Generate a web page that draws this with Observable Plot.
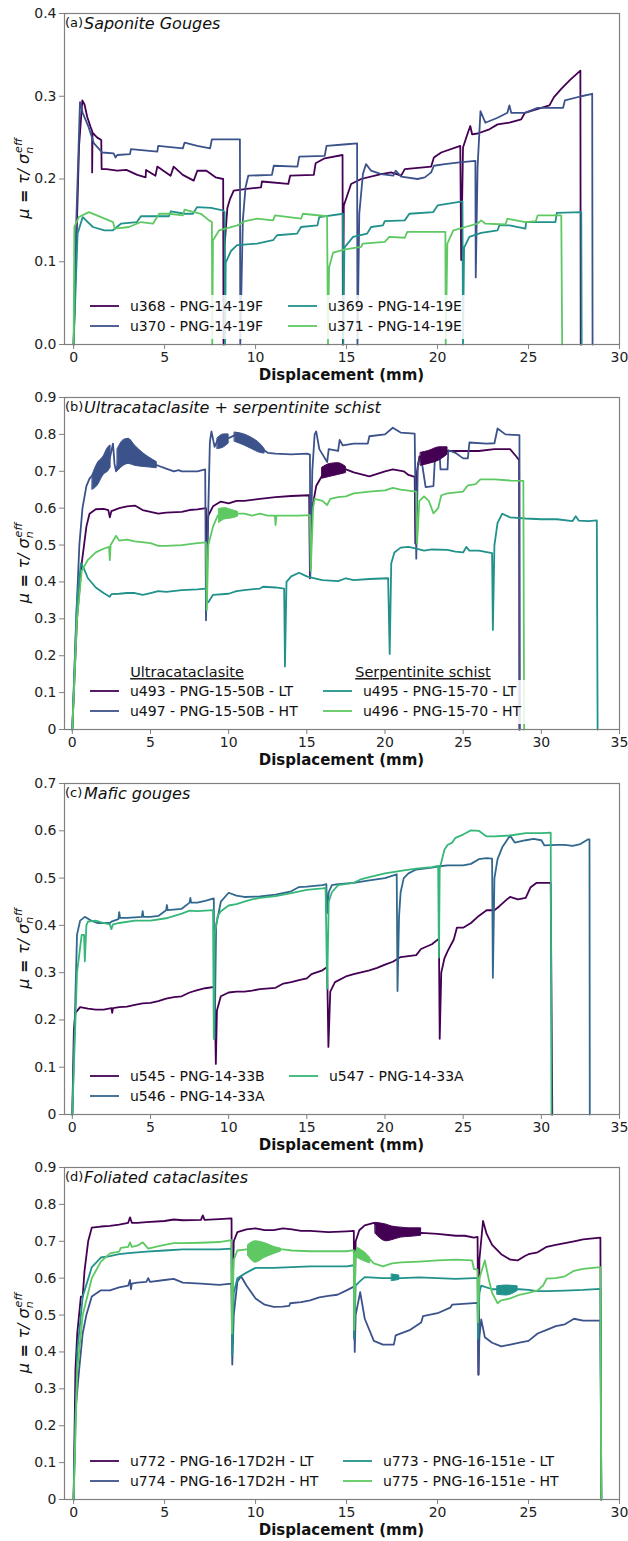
<!DOCTYPE html>
<html><head><meta charset="utf-8">
<script src="https://cdn.jsdelivr.net/npm/d3@7"></script>
<script src="https://cdn.jsdelivr.net/npm/@observablehq/plot@0.6"></script>
<style>body{margin:0;background:#fff;} #chart svg{display:block;}</style>
</head><body><div id="chart"></div>
<script>
// ---------- Panel (a): Saponite gouges ----------
const u368 = [[0,0],[0.15,0.12],[0.3,0.24],[0.48,0.295],[0.6,0.29],[0.75,0.275],[0.93,0.263],[1.02,0.258],[1.02,0.208],[1.04,0.256],[1.3,0.25],[1.52,0.247],[1.54,0.212],[1.8,0.212],[2.4,0.21],[2.9,0.211],[3.5,0.205],[3.96,0.202],[3.98,0.211],[4.5,0.204],[4.6,0.215],[5.33,0.204],[5.5,0.215],[6.0,0.205],[6.6,0.198],[6.8,0.21],[7.3,0.21],[7.8,0.202],[8.22,0.2],[8.24,0],[8.3,0.12],[8.45,0.165],[8.6,0.176],[8.8,0.186],[9.5,0.188],[10.3,0.19],[10.35,0.197],[11.8,0.194],[11.9,0.204],[13.2,0.205],[13.3,0.219],[13.8,0.225],[14.78,0.229],[14.8,0],[14.85,0.168],[15.25,0.194],[15.8,0.2],[16.9,0.206],[17.45,0.208],[18.0,0.204],[18.2,0.212],[19.65,0.215],[19.8,0.226],[20.2,0.232],[21.25,0.24],[21.3,0.102],[21.4,0.238],[21.64,0.254],[21.8,0.264],[21.9,0.254],[22.2,0.255],[22.85,0.26],[23.3,0.266],[23.95,0.268],[24.6,0.272],[24.8,0.28],[26.15,0.289],[26.4,0.299],[26.8,0.309],[27.3,0.32],[27.85,0.331],[27.87,0]];
const u370 = [[0,0],[0.15,0.15],[0.35,0.293],[0.5,0.28],[0.82,0.263],[1.12,0.243],[1.58,0.232],[2.2,0.231],[2.3,0.226],[2.4,0.229],[3.1,0.23],[3.15,0.236],[4.6,0.233],[4.65,0.24],[6.0,0.237],[6.1,0.244],[6.8,0.24],[7.5,0.237],[7.6,0.248],[9.14,0.248],[9.16,0],[9.3,0.15],[9.45,0.19],[9.6,0.204],[10.9,0.205],[11.0,0.216],[12.3,0.215],[12.4,0.227],[13.8,0.228],[13.9,0.24],[15.0,0.242],[15.58,0.243],[15.6,0],[15.7,0.158],[15.9,0.206],[16.07,0.218],[16.35,0.21],[16.9,0.206],[17.57,0.204],[17.7,0.21],[18.0,0.203],[18.9,0.2],[19.3,0.202],[19.65,0.208],[19.8,0.216],[20.4,0.218],[21.2,0.22],[22.08,0.222],[22.1,0.081],[22.2,0.214],[22.36,0.282],[22.63,0.268],[23.3,0.274],[23.84,0.28],[23.95,0.289],[24.05,0.28],[24.8,0.28],[25.5,0.286],[26.9,0.286],[27.0,0.295],[27.9,0.3],[28.5,0.303],[28.52,0]];
const u369 = [[0,0],[0.22,0.134],[0.5,0.154],[1.06,0.142],[1.7,0.138],[2.16,0.138],[2.6,0.146],[3.48,0.148],[3.7,0.155],[5.24,0.155],[5.35,0.161],[6.1,0.158],[6.56,0.158],[6.78,0.166],[7.55,0.165],[8.2,0.162],[8.3,0.16],[8.32,0],[8.36,0.099],[8.65,0.113],[8.98,0.12],[10.08,0.122],[10.96,0.126],[11.18,0.132],[12.28,0.134],[12.5,0.142],[13.4,0.144],[13.5,0.154],[14.8,0.158],[14.82,0],[14.88,0.117],[15.36,0.13],[16.13,0.134],[16.35,0.142],[17.0,0.144],[17.1,0.149],[18.2,0.15],[18.45,0.158],[19.77,0.16],[20.0,0.168],[21.37,0.173],[21.4,0],[21.46,0.117],[21.75,0.13],[22.4,0.135],[23.3,0.138],[23.4,0.144],[23.95,0.144],[24.83,0.14],[24.87,0.148],[26.48,0.148],[26.55,0.159],[27.9,0.16],[27.92,0]];
const u371 = [[0,0],[0.04,0.142],[0.29,0.154],[0.84,0.16],[1.28,0.156],[1.94,0.15],[2.16,0.148],[2.27,0.14],[3.04,0.142],[3.7,0.148],[4.36,0.146],[4.7,0.158],[5.24,0.158],[6.0,0.156],[6.1,0.163],[7.0,0.158],[7.44,0.15],[7.6,0.148],[7.62,0],[7.66,0.126],[8.0,0.138],[9.0,0.144],[9.42,0.149],[10.08,0.152],[10.96,0.15],[11.07,0.156],[12.5,0.152],[12.6,0.158],[13.93,0.155],[13.98,0],[14.04,0.093],[14.26,0.111],[14.92,0.115],[15.8,0.118],[15.9,0.122],[17.1,0.124],[17.35,0.13],[18.2,0.129],[18.34,0.136],[20.43,0.136],[20.45,0],[20.54,0.122],[20.87,0.138],[21.53,0.142],[22.19,0.146],[22.4,0.15],[22.63,0.146],[23.73,0.145],[23.84,0.152],[24.83,0.148],[25.4,0.149],[25.5,0.156],[26.8,0.156],[26.85,0]];

// ---------- Panel (b): Ultracataclasite + serpentinite schist ----------
const u493 = [[0,0],[0.3,0.3],[0.6,0.45],[0.75,0.5],[0.9,0.55],[1.1,0.585],[1.5,0.597],[2.0,0.598],[2.3,0.595],[2.4,0.575],[2.5,0.592],[3.0,0.6],[3.5,0.605],[4.0,0.607],[4.5,0.595],[5.0,0.59],[5.5,0.585],[6.0,0.588],[7.0,0.59],[7.5,0.595],[8.0,0.597],[8.55,0.6],[8.58,0.45],[8.7,0.58],[9.0,0.605],[9.5,0.618],[10.0,0.613],[10.5,0.62],[11.0,0.62],[12.0,0.625],[13.0,0.63],[14.0,0.633],[15.15,0.635],[15.2,0.41],[15.35,0.6],[15.6,0.66],[16.0,0.69],[16.5,0.7],[17.5,0.705],[18.0,0.697],[19.0,0.686],[19.5,0.693],[20.0,0.7],[20.5,0.705],[21.2,0.7],[21.5,0.69],[21.9,0.685],[21.94,0.504],[22.05,0.7],[22.2,0.74],[22.5,0.735],[23.0,0.74],[24.0,0.755],[25.0,0.755],[26.0,0.755],[27.0,0.76],[28.0,0.76],[28.4,0.74],[28.58,0.73],[28.6,0]];
const u497 = [[0,0],[0.25,0.3],[0.45,0.5],[0.65,0.6],[0.9,0.66],[1.1,0.68],[1.3,0.69],[2.0,0.715],[2.4,0.735],[2.6,0.775],[2.7,0.72],[2.8,0.7],[3.0,0.73],[3.8,0.75],[4.5,0.728],[5.0,0.72],[5.5,0.715],[6.0,0.707],[6.5,0.7],[6.8,0.703],[7.0,0.7],[8.0,0.7],[8.5,0.705],[8.55,0.296],[8.7,0.6],[8.8,0.78],[8.9,0.808],[9.1,0.766],[9.3,0.785],[10.0,0.79],[10.5,0.8],[11.0,0.79],[11.5,0.78],[12.0,0.765],[12.5,0.75],[13.0,0.748],[14.0,0.746],[15.0,0.748],[15.2,0.745],[15.22,0.413],[15.35,0.7],[15.5,0.8],[15.6,0.808],[15.8,0.76],[16.3,0.725],[16.4,0.76],[17.0,0.755],[17.1,0.785],[17.3,0.77],[18.0,0.775],[18.9,0.775],[19.0,0.795],[20.0,0.8],[20.5,0.818],[21.0,0.805],[21.9,0.802],[22.0,0.463],[22.1,0.72],[22.3,0.74],[22.6,0.657],[23.1,0.66],[23.2,0.74],[23.5,0.74],[23.55,0.705],[24.0,0.705],[24.05,0.757],[24.5,0.75],[25.0,0.735],[25.3,0.735],[25.4,0.778],[26.5,0.775],[27.0,0.776],[27.2,0.816],[27.7,0.8],[28.6,0.798],[28.62,0]];
const u495 = [[0,0],[0.3,0.35],[0.55,0.45],[0.7,0.44],[1.0,0.41],[1.5,0.385],[2.0,0.37],[2.4,0.36],[2.5,0.367],[3.0,0.368],[3.5,0.37],[4.0,0.37],[4.5,0.365],[5.0,0.37],[5.5,0.375],[6.0,0.373],[7.0,0.378],[8.0,0.38],[8.55,0.382],[8.6,0.345],[8.7,0.345],[9.0,0.365],[10.0,0.368],[10.5,0.375],[11.0,0.378],[12.0,0.382],[12.2,0.387],[13.0,0.385],[13.55,0.382],[13.6,0.171],[13.7,0.4],[14.0,0.415],[14.5,0.425],[15.0,0.415],[15.5,0.41],[16.0,0.405],[17.0,0.402],[17.5,0.41],[18.0,0.405],[19.0,0.408],[20.2,0.41],[20.3,0.205],[20.4,0.45],[20.6,0.48],[21.0,0.493],[21.5,0.495],[22.0,0.49],[22.5,0.485],[23.0,0.488],[24.0,0.487],[24.5,0.482],[25.0,0.48],[25.2,0.495],[25.4,0.485],[26.0,0.485],[26.85,0.478],[26.9,0.27],[27.0,0.5],[27.2,0.56],[27.5,0.585],[28.0,0.575],[29.0,0.572],[30.0,0.57],[31.0,0.57],[32.0,0.565],[32.2,0.578],[32.4,0.566],[33.0,0.565],[33.55,0.567],[33.6,0]];
const u496 = [[0,0],[0.3,0.3],[0.6,0.43],[1.0,0.46],[1.5,0.48],[2.0,0.49],[2.35,0.495],[2.4,0.459],[2.45,0.5],[2.8,0.525],[3.0,0.512],[3.5,0.515],[4.0,0.51],[5.0,0.505],[5.5,0.498],[6.0,0.498],[7.0,0.5],[8.0,0.505],[8.55,0.507],[8.6,0.323],[8.7,0.5],[9.0,0.55],[9.3,0.58],[10.0,0.585],[11.0,0.585],[11.5,0.58],[12.0,0.585],[12.5,0.58],[12.95,0.58],[13.0,0.554],[13.05,0.58],[14.5,0.58],[15.2,0.581],[15.25,0.43],[15.4,0.6],[15.5,0.625],[16.0,0.62],[16.3,0.608],[16.5,0.625],[17.0,0.63],[17.5,0.632],[18.0,0.64],[19.0,0.645],[20.0,0.648],[20.5,0.655],[21.0,0.65],[22.0,0.645],[22.05,0.504],[22.2,0.62],[22.5,0.632],[22.8,0.62],[23.1,0.586],[23.4,0.6],[23.6,0.635],[24.0,0.64],[25.0,0.645],[25.3,0.662],[25.8,0.665],[26.1,0.678],[27.0,0.678],[28.0,0.675],[28.85,0.674],[28.9,0]];
// oscillation envelopes [x, low, high]
const u497osc1 = [[1.3,0.65,0.69],[1.6,0.66,0.72],[2.0,0.69,0.74],[2.3,0.7,0.765],[2.45,0.71,0.77]];
const u497osc2 = [[2.9,0.70,0.76],[3.3,0.715,0.785],[3.6,0.72,0.788],[4.0,0.715,0.77],[4.5,0.712,0.75],[5.0,0.71,0.735],[5.4,0.708,0.725]];
const u497osc3 = [[9.3,0.76,0.79],[9.7,0.765,0.8],[10.0,0.775,0.8]];
const u497osc4 = [[10.4,0.78,0.805],[11.0,0.77,0.8],[11.5,0.76,0.79],[12.0,0.75,0.775],[12.3,0.748,0.76]];
const u493osc1 = [[16.0,0.68,0.71],[16.5,0.685,0.72],[17.0,0.69,0.722],[17.5,0.695,0.712]];
const u493osc2 = [[22.3,0.715,0.75],[22.8,0.72,0.755],[23.5,0.73,0.765],[24.0,0.745,0.765]];
const u496osc1 = [[9.4,0.56,0.598],[9.8,0.57,0.6],[10.2,0.572,0.595],[10.6,0.577,0.59]];

// ---------- Panel (c): Mafic gouges ----------
const u545 = [[0,0],[0.1,0.18],[0.2,0.215],[0.5,0.227],[1.0,0.224],[1.5,0.222],[2.0,0.222],[2.5,0.225],[2.55,0.215],[2.6,0.225],[3.0,0.227],[3.5,0.228],[4.0,0.232],[4.5,0.235],[5.0,0.236],[5.5,0.24],[6.0,0.245],[6.5,0.248],[7.0,0.25],[7.5,0.258],[8.0,0.263],[8.5,0.267],[9.1,0.27],[9.18,0.107],[9.25,0.22],[9.5,0.25],[10.0,0.258],[10.5,0.26],[11.0,0.26],[11.5,0.262],[12.0,0.265],[13.0,0.268],[13.5,0.277],[14.0,0.28],[14.5,0.284],[15.0,0.288],[15.3,0.297],[16.0,0.305],[16.3,0.312],[16.38,0.143],[16.5,0.26],[16.8,0.28],[17.5,0.292],[18.0,0.297],[19.0,0.305],[19.5,0.31],[20.0,0.317],[20.5,0.323],[21.0,0.333],[22.0,0.337],[22.3,0.35],[23.0,0.36],[23.45,0.372],[23.5,0.16],[23.6,0.3],[23.8,0.33],[24.0,0.345],[24.4,0.37],[24.6,0.395],[25.0,0.395],[25.5,0.405],[26.0,0.42],[26.5,0.432],[27.0,0.432],[27.3,0.44],[27.8,0.455],[28.0,0.46],[28.5,0.455],[29.0,0.458],[29.3,0.48],[29.7,0.49],[30.6,0.49],[30.7,0]];
const u546 = [[0,0],[0.3,0.38],[0.5,0.41],[0.8,0.418],[1.2,0.41],[1.6,0.405],[2.4,0.405],[2.5,0.408],[2.95,0.413],[3.0,0.428],[3.05,0.416],[3.5,0.416],[4.0,0.417],[4.45,0.418],[4.5,0.43],[4.55,0.418],[5.0,0.418],[5.5,0.42],[6.0,0.432],[6.05,0.443],[6.1,0.432],[7.0,0.435],[7.5,0.448],[7.55,0.458],[7.6,0.448],[8.0,0.448],[8.5,0.452],[9.05,0.457],[9.1,0.16],[9.2,0.4],[9.5,0.45],[10.0,0.469],[10.5,0.463],[11.0,0.46],[12.0,0.461],[13.0,0.465],[14.0,0.472],[14.5,0.481],[15.0,0.482],[16.0,0.485],[16.25,0.487],[16.3,0.426],[16.4,0.47],[16.6,0.485],[17.0,0.487],[18.0,0.49],[19.0,0.495],[20.0,0.5],[20.75,0.508],[20.8,0.261],[20.9,0.42],[21.0,0.47],[21.2,0.5],[21.5,0.51],[22.0,0.518],[23.0,0.522],[23.5,0.525],[24.0,0.527],[25.0,0.527],[25.5,0.53],[26.0,0.54],[26.5,0.542],[26.85,0.541],[26.9,0.289],[27.0,0.5],[27.2,0.54],[27.5,0.565],[27.8,0.58],[28.0,0.59],[28.3,0.575],[29.0,0.58],[29.5,0.583],[30.0,0.58],[30.2,0.569],[31.0,0.57],[31.5,0.57],[32.0,0.568],[32.5,0.572],[33.0,0.582],[33.08,0.582],[33.1,0]];
const u547 = [[0,0],[0.3,0.3],[0.6,0.38],[0.75,0.38],[0.8,0.324],[0.9,0.4],[1.0,0.408],[1.5,0.41],[2.0,0.405],[2.4,0.402],[2.5,0.392],[2.6,0.402],[3.0,0.405],[4.0,0.41],[5.0,0.41],[6.0,0.415],[7.0,0.425],[7.5,0.431],[8.0,0.43],[9.0,0.432],[9.05,0.16],[9.1,0.38],[9.3,0.42],[9.5,0.43],[10.0,0.442],[10.5,0.445],[11.0,0.45],[11.5,0.455],[12.0,0.458],[13.0,0.462],[14.0,0.468],[15.0,0.475],[16.0,0.478],[16.2,0.479],[16.3,0.266],[16.4,0.45],[16.6,0.47],[17.0,0.485],[18.0,0.49],[18.5,0.498],[19.0,0.502],[20.0,0.51],[21.0,0.515],[22.0,0.52],[23.0,0.523],[23.4,0.526],[23.45,0.332],[23.5,0.52],[23.8,0.56],[24.0,0.57],[24.3,0.575],[24.5,0.585],[25.0,0.592],[25.5,0.601],[26.0,0.6],[26.5,0.588],[27.0,0.588],[28.0,0.59],[29.0,0.595],[29.5,0.595],[30.0,0.595],[30.6,0.596],[30.65,0]];

// ---------- Panel (d): Foliated cataclasites ----------
const u772 = [[0,0],[0.1,0.35],[0.2,0.45],[0.4,0.55],[0.5,0.55],[0.6,0.62],[0.8,0.7],[1.0,0.737],[1.5,0.74],[2.0,0.742],[2.5,0.745],[3.0,0.75],[3.1,0.765],[3.2,0.75],[3.5,0.75],[4.0,0.752],[5.0,0.755],[5.5,0.759],[6.0,0.757],[7.0,0.758],[7.1,0.77],[7.2,0.758],[8.0,0.76],[8.68,0.762],[8.7,0.463],[8.8,0.7],[9.0,0.725],[9.5,0.732],[10.0,0.735],[10.5,0.73],[11.0,0.73],[11.5,0.735],[12.0,0.732],[12.5,0.728],[13.0,0.728],[14.0,0.725],[15.0,0.727],[15.4,0.728],[15.42,0.436],[15.5,0.7],[15.7,0.73],[16.0,0.743],[16.5,0.75],[17.0,0.73],[17.3,0.71],[18.0,0.72],[19.1,0.723],[20.0,0.72],[21.0,0.715],[21.5,0.715],[22.0,0.71],[22.2,0.712],[22.25,0.339],[22.3,0.65],[22.5,0.755],[22.7,0.72],[23.0,0.69],[23.5,0.665],[24.0,0.65],[24.4,0.648],[24.8,0.66],[25.0,0.665],[25.5,0.67],[26.0,0.685],[26.5,0.69],[27.0,0.695],[27.5,0.7],[28.0,0.705],[28.95,0.71],[29.0,0]];
const u774 = [[0,0],[0.1,0.237],[0.3,0.35],[0.5,0.45],[0.7,0.5],[1.0,0.55],[1.5,0.567],[2.0,0.567],[2.5,0.575],[3.0,0.58],[3.1,0.595],[3.15,0.57],[3.2,0.585],[3.5,0.588],[4.0,0.59],[4.1,0.6],[4.2,0.59],[5.0,0.595],[5.5,0.598],[6.0,0.588],[7.0,0.585],[8.0,0.582],[8.68,0.585],[8.72,0.366],[8.8,0.5],[9.0,0.59],[9.2,0.605],[9.5,0.58],[10.0,0.545],[10.5,0.528],[11.0,0.522],[11.5,0.523],[11.85,0.525],[11.9,0.532],[12.5,0.535],[13.0,0.54],[13.5,0.548],[14.0,0.552],[14.5,0.555],[15.0,0.567],[15.4,0.577],[15.45,0.4],[15.5,0.5],[15.75,0.562],[16.0,0.49],[16.5,0.43],[17.0,0.42],[17.6,0.42],[17.7,0.445],[18.5,0.46],[19.1,0.48],[19.2,0.497],[20.0,0.505],[20.7,0.52],[20.8,0.528],[22.2,0.533],[22.25,0.338],[22.3,0.44],[22.4,0.488],[22.6,0.44],[23.0,0.425],[23.5,0.415],[24.0,0.42],[24.5,0.425],[25.0,0.43],[25.5,0.45],[26.0,0.46],[26.5,0.47],[27.0,0.475],[27.5,0.49],[28.0,0.485],[28.5,0.485],[28.95,0.485],[29.0,0]];
const u773 = [[0,0],[0.2,0.4],[0.5,0.55],[1.0,0.63],[1.5,0.656],[2.0,0.66],[2.5,0.665],[3.0,0.668],[4.0,0.672],[5.0,0.675],[6.0,0.678],[7.0,0.678],[8.0,0.678],[8.68,0.68],[8.72,0.393],[8.8,0.56],[9.0,0.6],[9.5,0.615],[10.0,0.628],[10.5,0.628],[11.0,0.628],[12.0,0.63],[13.0,0.632],[14.0,0.632],[15.0,0.632],[15.4,0.635],[15.42,0.437],[15.5,0.58],[15.7,0.59],[16.0,0.603],[17.0,0.6],[18.0,0.6],[19.0,0.602],[20.0,0.6],[21.0,0.598],[22.0,0.6],[22.2,0.6],[22.22,0.436],[22.3,0.56],[22.4,0.58],[23.0,0.57],[24.5,0.57],[25.0,0.568],[25.5,0.565],[26.0,0.565],[27.0,0.566],[28.0,0.568],[28.95,0.571],[29.0,0]];
const u775 = [[0,0],[0.2,0.35],[0.5,0.5],[1.0,0.6],[1.5,0.645],[2.0,0.667],[2.5,0.672],[2.6,0.682],[3.0,0.685],[3.1,0.697],[3.2,0.685],[3.5,0.688],[3.8,0.697],[4.1,0.68],[4.5,0.685],[5.0,0.69],[5.5,0.695],[6.0,0.695],[7.0,0.696],[8.0,0.698],[8.68,0.703],[8.7,0.45],[8.8,0.65],[9.0,0.675],[9.5,0.678],[11.5,0.678],[12.0,0.675],[13.0,0.673],[14.0,0.673],[15.0,0.673],[15.4,0.676],[15.42,0.46],[15.5,0.67],[15.6,0.682],[16.2,0.655],[16.5,0.64],[17.0,0.632],[17.5,0.64],[18.0,0.643],[19.0,0.645],[20.0,0.648],[21.0,0.65],[21.9,0.648],[22.0,0.625],[22.2,0.623],[22.22,0.48],[22.3,0.6],[22.6,0.648],[22.8,0.6],[23.0,0.56],[23.3,0.532],[23.5,0.54],[24.0,0.545],[24.5,0.555],[25.0,0.56],[25.5,0.567],[25.8,0.58],[26.0,0.599],[26.5,0.6],[27.0,0.605],[27.5,0.62],[28.0,0.625],[28.95,0.63],[29.0,0]];
const u772osc1 = [[16.6,0.72,0.75],[17.2,0.70,0.745],[17.5,0.703,0.74],[18.0,0.71,0.737],[18.5,0.712,0.735],[19.1,0.715,0.735]];
const u775osc1 = [[9.6,0.66,0.69],[10.0,0.642,0.7],[10.5,0.655,0.695],[11.0,0.665,0.685],[11.4,0.672,0.68]];
const u775osc2 = [[15.6,0.655,0.682],[16.0,0.645,0.67],[16.3,0.64,0.655]];
const u773osc1 = [[23.3,0.555,0.578],[23.8,0.553,0.58],[24.4,0.565,0.578]];
const u773osc2 = [[17.5,0.592,0.61],[17.9,0.595,0.607]];

// ---------- ticks, labels ----------
const xTicks30 = [0,5,10,15,20,25,30];
const xTicks35 = [0,5,10,15,20,25,30,35];
const yTicksA = [0,0.1,0.2,0.3,0.4];
const yTicks9 = [0,0.1,0.2,0.3,0.4,0.5,0.6,0.7,0.8,0.9];
const yTicks7 = [0,0.1,0.2,0.3,0.4,0.5,0.6,0.7];
const labelsA = ["u368 - PNG-14-19F","u370 - PNG-14-19F","u369 - PNG-14-19E","u371 - PNG-14-19E"];
const labelsB = ["u493 - PNG-15-50B - LT","u497 - PNG-15-50B - HT","u495 - PNG-15-70 - LT","u496 - PNG-15-70 - HT"];
const labelsC = ["u545 - PNG-14-33B","u546 - PNG-14-33A","u547 - PNG-14-33A"];
const labelsD = ["u772 - PNG-16-17D2H - LT","u774 - PNG-16-17D2H - HT","u773 - PNG-16-151e - LT","u775 - PNG-16-151e - HT"];
const headersB = ["Ultracataclasite","Serpentinite schist"];
const V4 = ["#440154","#3b528b","#21918c","#5ec962"];
const V3 = ["#440154","#31688e","#35b779"];

const panels = [
  {tag:"(a)", title:"Saponite Gouges", height:384, mb:40, xdomain:[-0.5,30], xticks:xTicks30, ydomain:[0,0.4], yticks:yTicksA, yfmt:d=>d.toFixed(1),
   series:[["u368",u368],["u370",u370],["u369",u369],["u371",u371]], colors:V4, labels:labelsA, bands:[],
   legCols:[90,288], legW:388},
  {tag:"(b)", title:"Ultracataclasite + serpentinite schist", height:386, mb:41, xdomain:[-0.5,35], xticks:xTicks35, ydomain:[0,0.9], yticks:yTicks9, yfmt:d=>d===0?"0":d.toFixed(1),
   series:[["u493",u493],["u497",u497],["u495",u495],["u496",u496]], colors:V4, labels:labelsB, headers:headersB,
   bands:[["u497",u497osc1],["u497",u497osc2],["u497",u497osc3],["u497",u497osc4],["u493",u493osc1],["u493",u493osc2],["u496",u496osc1]],
   legCols:[90,323], legW:446},
  {tag:"(c)", title:"Mafic gouges", height:384, mb:40, xdomain:[-0.5,35], xticks:xTicks35, ydomain:[0,0.7], yticks:yTicks7, yfmt:d=>d===0?"0":d.toFixed(1),
   series:[["u545",u545],["u546",u546],["u547",u547]], colors:V3, labels:labelsC, bands:[],
   legCols:[90,289], legW:390},
  {tag:"(d)", title:"Foliated cataclasites", height:387, mb:42, xdomain:[-0.5,30], xticks:xTicks30, ydomain:[0,0.9], yticks:yTicks9, yfmt:d=>d===0?"0":d.toFixed(1),
   series:[["u772",u772],["u774",u774],["u773",u773],["u775",u775]], colors:V4, labels:labelsD,
   bands:[["u772",u772osc1],["u775",u775osc1],["u775",u775osc2],["u773",u773osc1],["u773",u773osc2]],
   legCols:[90,343], legW:485}
];

const chart = document.getElementById("chart");
const TOP = 13;
panels.forEach(p => {
  const names = p.series.map(s => s[0]);
  const rows = p.series.flatMap(([name, pts]) => pts.map(([x, y]) => ({x, y, s: name})));
  const bandRows = p.bands.flatMap(([name, pts], i) => pts.map(([x, lo, hi]) => ({x, lo, hi, s: name, k: i})));
  const bottom = p.height - p.mb;
  const svg = Plot.plot({
    width: 628, height: p.height,
    marginLeft: 64, marginRight: 9, marginTop: TOP, marginBottom: p.mb,
    style: {fontFamily: "DejaVu Sans", fontSize: "14px", color: "#222", background: "white", overflow: "visible"},
    x: {domain: p.xdomain, ticks: p.xticks, tickFormat: d => String(d), label: null, tickSize: 5, tickPadding: 3},
    y: {domain: p.ydomain, ticks: p.yticks, tickFormat: p.yfmt, label: null, tickSize: 5, tickPadding: 3},
    color: {domain: names, range: p.colors},
    marks: [
      Plot.line(rows, {x: "x", y: "y", z: "s", stroke: "s", strokeWidth: 1.8}),
      Plot.areaY(bandRows, {x: "x", y1: "lo", y2: "hi", z: "k", fill: "s", stroke: "s", strokeWidth: 1, curve: "monotone-x"}),
      Plot.frame({stroke: "#808080", strokeWidth: 1.2})
    ]
  });
  const color = svg.scale("color");
  const s = d3.select(svg);
  s.selectAll('g[aria-label="x-axis tick"], g[aria-label="y-axis tick"]').attr("stroke", "#808080");
  // panel title
  s.append("text").attr("x", 65).attr("y", TOP + 14).attr("text-anchor", "start").attr("font-size", 13).attr("fill", "#111").text(p.tag);
  s.append("text").attr("x", 84).attr("y", TOP + 16).attr("text-anchor", "start").attr("font-size", 16).attr("font-style", "italic").attr("fill", "#111").text(p.title);
  // x label
  s.append("text").attr("x", (64 + 619) / 2).attr("y", bottom + 36).attr("text-anchor", "middle")
    .attr("font-size", 15).attr("font-weight", "bold").attr("fill", "#111").text("Displacement (mm)");
  // y label
  const yl = s.append("text").attr("transform", `translate(29,${(TOP + bottom) / 2}) rotate(-90)`)
    .attr("text-anchor", "middle").attr("font-size", 16).attr("fill", "#111");
  yl.append("tspan").attr("font-style", "italic").text("μ");
  yl.append("tspan").attr("font-weight", "bold").text(" = ");
  yl.append("tspan").attr("font-style", "italic").text("τ/ σ");
  yl.append("tspan").attr("font-style", "italic").attr("font-size", 11).attr("dy", 4).text("n");
  yl.append("tspan").attr("font-style", "italic").attr("font-size", 11).attr("dx", -6).attr("dy", -11).text("eff");
  // legend
  const r1 = bottom - 38, r2 = bottom - 18;
  const g = s.append("g");
  g.append("rect").attr("x", 82).attr("y", r1 - 11).attr("width", p.legW).attr("height", r2 - r1 + 24)
    .attr("fill", "white").attr("fill-opacity", 0.85);
  names.forEach((n, i) => {
    const cx = p.legCols[Math.floor(i / 2)];
    const cy = i % 2 === 0 ? r1 : r2;
    g.append("line").attr("x1", cx).attr("x2", cx + 29).attr("y1", cy).attr("y2", cy)
      .attr("stroke", color.apply(n)).attr("stroke-width", 1.8);
    g.append("text").attr("x", cx + 40).attr("y", cy).attr("dy", "0.35em").attr("text-anchor", "start")
      .attr("font-size", 14).attr("fill", "#111").text(p.labels[i]);
  });
  if (p.headers) {
    const centers = [187, 423];
    p.headers.forEach((h, i) => {
      g.append("text").attr("x", centers[i]).attr("y", r1 - 19).attr("dy", "0.35em").attr("text-anchor", "middle")
        .attr("font-size", 14.5).attr("text-decoration", "underline").attr("fill", "#111").text(h);
    });
  }
  chart.appendChild(svg);
});
</script></body></html>
